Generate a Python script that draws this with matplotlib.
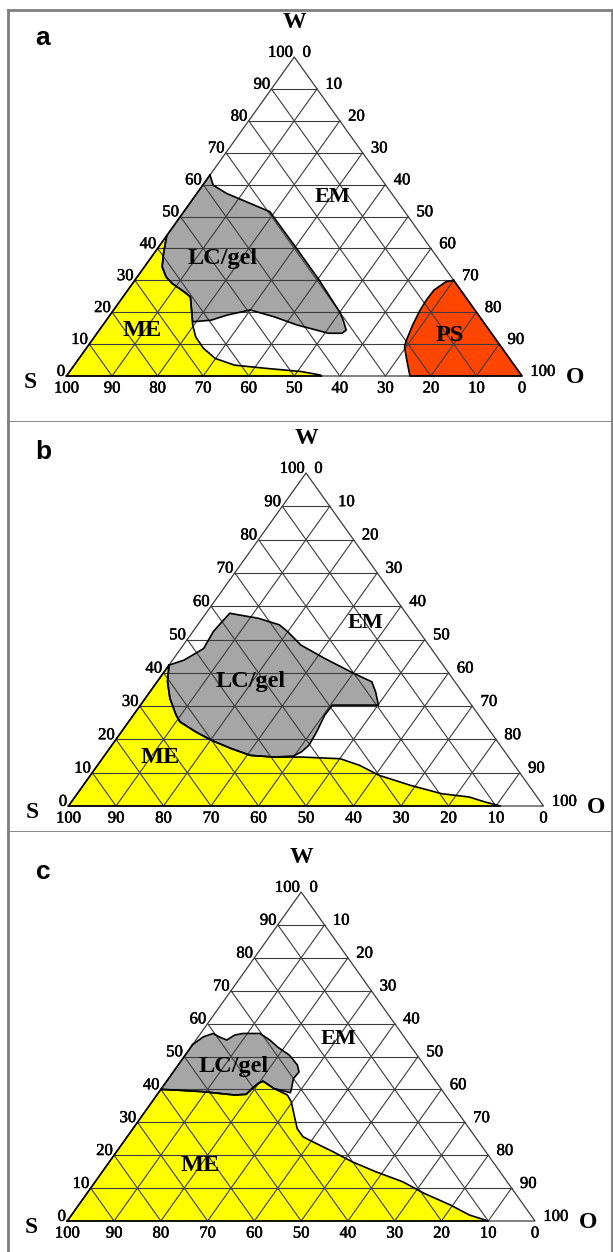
import matplotlib
matplotlib.use("Agg")
import matplotlib.pyplot as plt
import matplotlib.patheffects as pe
import numpy as np

# ---- data: phase boundaries, as (W %, O %) pairs ----
# panel a
ME_A_W = [44.0, 38.4, 34.2, 31.1, 29.0, 26.4, 24.8, 20.7, 16.0, 12.3, 8.7, 5.5, 3.4, 2.4, 1.4, 0.3, 0.0]
ME_A_O = [0.0, 2.1, 3.9, 6.3, 8.7, 12.6, 14.8, 17.1, 19.7, 22.2, 25.7, 29.9, 35.2, 42.6, 50.8, 55.6, 56.0]
LC_A_W = [63.0, 59.8, 57.2, 54.1, 51.5, 49.9, 40.0, 30.0, 20.0, 17.5, 14.4, 13.4, 13.4, 16.0, 18.6, 20.7, 19.1, 17.5, 17.0]
LC_A_O = [0.0, 2.3, 6.6, 13.3, 18.9, 20.5, 30.5, 40.5, 50.0, 52.0, 54.2, 53.8, 50.8, 42.6, 36.2, 30.0, 25.7, 23.0, 19.2]
LC_A_JOIN = 7
PS_A_W = [30.0, 29.5, 26.9, 23.8, 20.7, 16.0, 11.3, 9.2, 5.0, 0.0]
PS_A_O = [70.0, 68.5, 67.2, 67.1, 67.3, 68.0, 69.0, 69.6, 72.2, 75.4]

# panel b
ME_B_W = [42.3, 37.3, 32.3, 27.3, 25.3, 22.3, 19.8, 17.3, 15.2, 14.7, 14.7, 14.2, 12.2, 9.2, 6.2, 3.7, 2.7, 1.2, 0.0]
ME_B_O = [0.0, 2.2, 5.2, 9.0, 10.8, 15.6, 20.1, 25.5, 30.7, 35.9, 41.6, 50.1, 55.2, 60.8, 68.9, 76.7, 83.0, 87.1, 90.9]
LC_B_W = [42.3, 43.8, 45.8, 47.3, 52.4, 54.9, 57.9, 57.4, 56.4, 54.4, 52.4, 48.3, 44.3, 39.8, 37.3, 34.3,
          30.3, 30.3, 27.3, 22.3, 18.3, 16.2, 15.0]
LC_B_O = [0.0, 2.4, 3.8, 4.8, 4.3, 4.6, 5.0, 7.1, 11.7, 17.2, 19.9, 24.8, 31.8, 40.2, 45.2, 47.5,
          50.1, 40.4, 40.3, 41.1, 41.5, 40.9, 39.8]
LC_B_JOIN = 9

# panel c
ME_C_W = [40.0, 39.8, 39.3, 38.8, 38.3, 38.5, 40.3, 41.8, 42.5, 40.3, 38.3, 36.2, 32.2, 28.1, 25.6, 24.1,
          21.1, 18.0, 15.0, 11.9, 8.4, 4.9, 1.8, 0.0]
ME_C_O = [0.0, 3.3, 9.4, 13.0, 16.6, 19.0, 19.4, 19.9, 20.6, 24.0, 27.9, 29.8, 32.4, 35.1, 37.6, 40.4,
          46.2, 51.9, 58.4, 65.8, 72.1, 79.4, 85.1, 90.0]
LC_C_W = [53.6, 56.0, 57.0, 56.0, 55.0, 56.5, 57.0, 57.0, 55.0, 52.9, 50.4, 47.4, 45.3, 43.3, 40.3, 39.0]
LC_C_O = [0.0, 1.1, 2.7, 4.4, 6.6, 7.5, 9.0, 12.7, 15.8, 18.5, 22.3, 25.5, 26.9, 26.7, 27.8, 28.2]
LC_C_JOIN = 9

# region label positions (W %, O %)
LABELS_A = [("EM", 56.2, 30.3), ("LC/gel", 36.8, 15.9), ("ME", 14.4, 9.5), ("PS", 12.8, 77.7)]
LABELS_B = [("EM", 54.9, 35.1), ("LC/gel", 37.3, 19.6), ("ME", 14.7, 12.0)]
LABELS_C = [("EM", 55.3, 30.3), ("LC/gel", 46.9, 12.2), ("ME", 17.0, 19.8)]

TICKS = list(range(0, 101, 10))

YELLOW = "#ffff00"
GREY = "#a6a6a6"
RED = "#ff4500"
GRID = "#3c3c3c"
FRAME = "#7f7f7f"
SERIF = "Liberation Serif"

FIG_W, FIG_H = 613, 1252

HEAVY = [pe.withStroke(linewidth=0.35, foreground="black")]


def tern_xy(w, o):
    w = np.asarray(w, dtype=float) / 100.0
    o = np.asarray(o, dtype=float) / 100.0
    return o + w / 2.0, w


def make_panel(fig, box, S, O, top, spines):
    x0, y0, x1, y1 = box
    ax = fig.add_axes([x0 / FIG_W, 1 - y1 / FIG_H, (x1 - x0) / FIG_W, (y1 - y0) / FIG_H])
    base = O[0] - S[0]
    height = S[1] - top
    ax.set_xlim((x0 - S[0]) / base, (x1 - S[0]) / base)
    ax.set_ylim((S[1] - y1) / height, (S[1] - y0) / height)
    ax.set_xticks([])
    ax.set_yticks([])
    for side, sp in ax.spines.items():
        sp.set_visible(side in spines)
        sp.set_color(FRAME)
        sp.set_linewidth(2)
    return ax


def draw_grid(ax):
    for k in range(10, 100, 10):
        ax.plot(*tern_xy([k, k], [0, 100 - k]), color=GRID, lw=0.8, zorder=2)
        ax.plot(*tern_xy([0, 100 - k], [k, k]), color=GRID, lw=0.8, zorder=2)
        ax.plot(*tern_xy([0, 100 - k], [100 - k, 0]), color=GRID, lw=0.8, zorder=2)
    ax.plot(*tern_xy([0, 0, 100, 0], [0, 100, 0, 0]), color=GRID, lw=0.9, zorder=2)


def draw_ticks(ax):
    fs = 12
    kw = dict(textcoords="offset points", va="center", fontsize=fs, family=SERIF, path_effects=HEAVY)
    for v in TICKS:
        ax.annotate(str(v), tern_xy(v, 0), xytext=(-1, 3), ha="right", **kw)
        ax.annotate(str(v), tern_xy(100 - v, v), xytext=(6, 3), ha="left", **kw)
        ax.annotate(str(v), tern_xy(0, 100 - v), xytext=(0, -9), ha="center", **kw)
    kw = dict(textcoords="offset points", ha="center", va="center", fontsize=17,
              fontweight="bold", family=SERIF)
    ax.annotate("W", tern_xy(100, 0), xytext=(0, 25), **kw)
    ax.annotate("S", tern_xy(0, 0), xytext=(-26, -5), **kw)
    ax.annotate("O", tern_xy(0, 100), xytext=(38, -1), **kw)


def fill_region(ax, w, o, color):
    x, y = tern_xy(w, o)
    ax.fill(x, y, color=color, lw=0, zorder=1)
    ax.plot(np.append(x, x[0]), np.append(y, y[0]), color="black", lw=1.2, zorder=3)


def draw_phases(ax, me_w, me_o, lc_w, lc_o, join):
    # ME: left-bottom corner plus boundary
    fill_region(ax, [0] + me_w, [0] + me_o, YELLOW)
    # LC/gel: outer boundary, then back along the ME boundary
    fill_region(ax, lc_w + me_w[join::-1], lc_o + me_o[join::-1], GREY)


def draw_labels(ax, labels):
    for text, w, o in labels:
        ax.text(*tern_xy(w, o), text, ha="center", va="center",
                fontsize=16 if text == "EM" else 17.5,
                fontweight="bold", family=SERIF, zorder=4)


def panel_letter(fig, letter, x, y):
    fig.text(x / FIG_W, 1 - y / FIG_H, letter, fontsize=19, fontweight="bold",
             family="Liberation Sans", ha="center", va="center")


fig = plt.figure(figsize=(FIG_W / 100, FIG_H / 100), dpi=100)

# panel a
ax = make_panel(fig, (8, 10, 612, 422), (66.5, 376), (522, 376), 57, ("left", "top", "bottom", "right"))
draw_phases(ax, ME_A_W, ME_A_O, LC_A_W, LC_A_O, LC_A_JOIN)
fill_region(ax, PS_A_W + [0, 30], PS_A_O + [100, 70], RED)
draw_grid(ax)
draw_ticks(ax)
draw_labels(ax, LABELS_A)
panel_letter(fig, "a", 43, 38)

# panel b
ax = make_panel(fig, (8, 422, 612, 832), (68.5, 806), (543.5, 806), 473, ("left", "bottom", "right"))
draw_phases(ax, ME_B_W, ME_B_O, LC_B_W, LC_B_O, LC_B_JOIN)
draw_grid(ax)
draw_ticks(ax)
draw_labels(ax, LABELS_B)
panel_letter(fig, "b", 43, 452)

# panel c
ax = make_panel(fig, (8, 832, 612, 1262), (67.3, 1221), (535, 1221), 892, ("left", "right"))
draw_phases(ax, ME_C_W, ME_C_O, LC_C_W, LC_C_O, LC_C_JOIN)
draw_grid(ax)
draw_ticks(ax)
draw_labels(ax, LABELS_C)
panel_letter(fig, "c", 43, 872)

fig.savefig("out.png", dpi=100)
